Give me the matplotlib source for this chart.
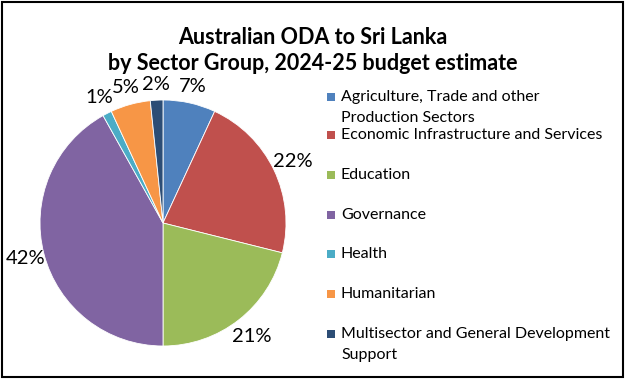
import matplotlib.pyplot as plt
import numpy as np
from matplotlib.patches import Rectangle

plt.rcParams['font.family'] = ['Lato', 'DejaVu Sans']

sectors = ["Agriculture, Trade and other\nProduction Sectors",
           "Economic Infrastructure and Services",
           "Education",
           "Governance",
           "Health",
           "Humanitarian",
           "Multisector and General Development\nSupport"]
shares = [6.9, 22.0, 21.1, 41.9, 1.2, 5.25, 1.65]
pct_labels = ["7%", "22%", "21%", "42%", "1%", "5%", "2%"]
colors = ['#4F81BD', '#C0504D', '#9BBB59', '#8064A2', '#4BACC6', '#F79646', '#2C4D75']

W, H = 625, 379
fig = plt.figure(figsize=(W / 100, H / 100), dpi=100)

# pie centre (163, 223) px, radius 123 px
cx, cy, R = 163, 223, 123
ax = fig.add_axes([(cx - R) / W, (H - cy - R) / H, 2 * R / W, 2 * R / H])
wedges, _ = ax.pie(shares, colors=colors, startangle=90, counterclock=False,
                   wedgeprops=dict(edgecolor='white', linewidth=0.6))
ax.set_xlim(-1, 1)
ax.set_ylim(-1, 1)
ax.set_aspect('equal')
ax.axis('off')

# outside-end percentage labels
fig.canvas.draw()
r = fig.canvas.get_renderer()
for w, lab in zip(wedges, pct_labels):
    ang = np.deg2rad((w.theta1 + w.theta2) / 2)
    t = ax.text(0, 0, lab, ha='center', va='center', fontsize=14.5, clip_on=False)
    bb = t.get_window_extent(renderer=r)
    c, s = abs(np.cos(ang)), abs(np.sin(ang))
    half = (0.8 * bb.width / 2 * c + bb.height / 2 * s) / R
    d = 1.0 + half + 0.05 * s
    t.set_position((d * np.cos(ang), d * np.sin(ang)))

fig.text(0.5, 1 - 37 / H, "Australian ODA to Sri Lanka", ha='center', va='center',
         fontsize=15.5, fontweight='bold')
fig.text(0.5, 1 - 63 / H, "by Sector Group, 2024-25 budget estimate", ha='center',
         va='center', fontsize=15.5, fontweight='bold')

# legend drawn as squares and texts
leg_y = [97, 135, 175, 215, 254, 294, 334]
for lab, c, y in zip(sectors, colors, leg_y):
    fig.patches.append(Rectangle((327 / W, 1 - (y + 4) / H), 8 / W, 8 / H,
                                 transform=fig.transFigure, facecolor=c, edgecolor='none'))
    fig.text(341 / W, 1 - (y - 7) / H, lab, ha='left', va='top', fontsize=11.5,
             linespacing=1.6)

fig.patches.append(Rectangle((2 / W, 2 / H), 1 - 4 / W, 1 - 4 / H, transform=fig.transFigure,
                             facecolor='none', edgecolor='black', linewidth=1.5))

fig.savefig('out.png', dpi=100)
